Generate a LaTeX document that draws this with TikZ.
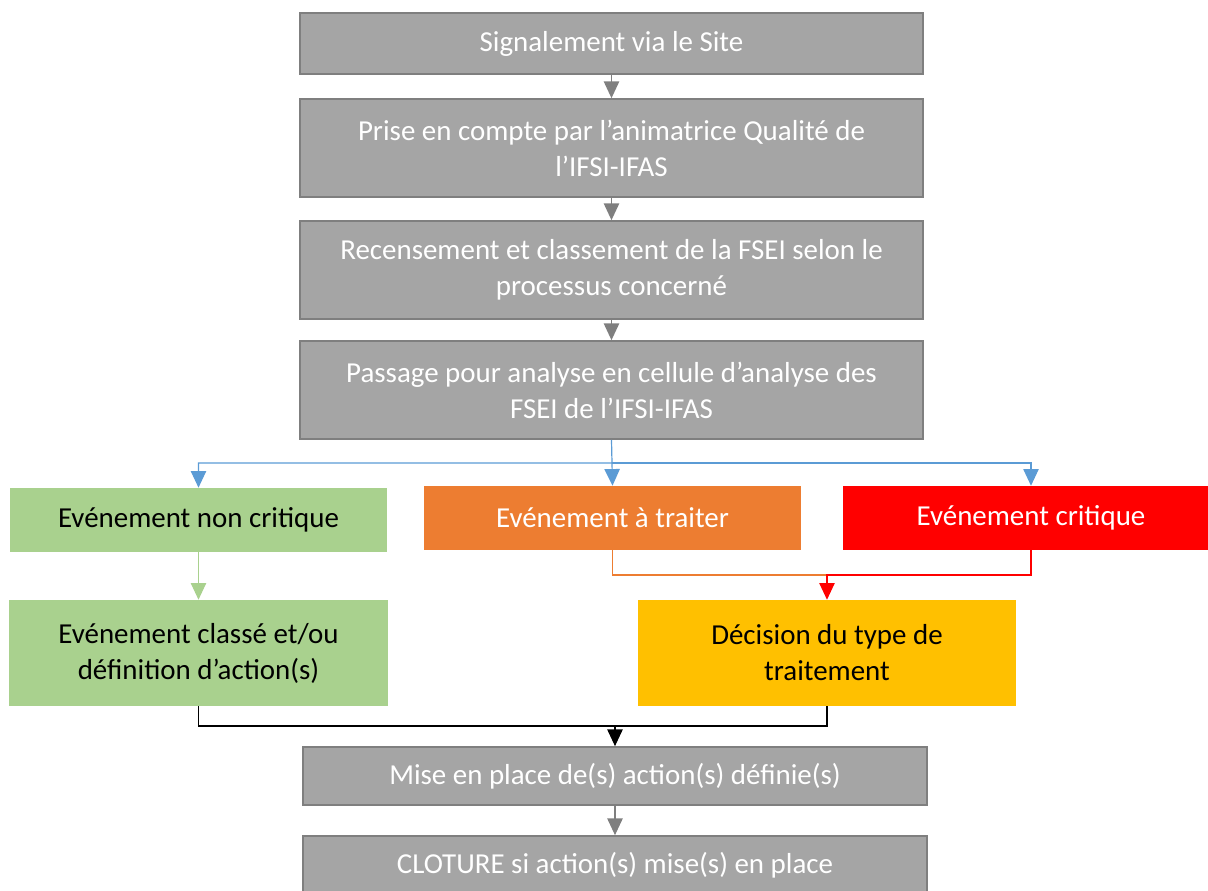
\documentclass[tikz,border=0pt]{standalone}
\usepackage{fontspec}
\setmainfont{Carlito}
\usepackage{tikz}
\usetikzlibrary{arrows.meta, positioning}

\definecolor{boxgray}{HTML}{A5A5A5}
\definecolor{edgegray}{HTML}{7F7F7F}
\definecolor{lightgreen}{HTML}{A9D18E}
\definecolor{darkorange}{HTML}{ED7D31}
\definecolor{brightred}{HTML}{FF0000}
\definecolor{gold}{HTML}{FFC000}
\definecolor{linkblue}{HTML}{5B9BD5}

\tikzset{
	stage/.style={draw=edgegray, line width=1.3pt, fill=boxgray, text=white, align=center, inner sep=0pt, font=\fontsize{21.7}{27}\selectfont},
	tone/.style={fill=#1, inner sep=0pt, align=center, font=\fontsize{21.7}{27}\selectfont},
	link/.style={line width=0.9pt, -{Triangle[length=12.5pt, width=11.5pt]}},
	plain/.style={line width=0.9pt}
}

\begin{document}
\begin{tikzpicture}[x=0.75pt, y=0.75pt]
	\useasboundingbox (0,0) rectangle (1208,-890);
	\node[stage, minimum width=467pt, minimum height=46pt] (signal) at (611.5,-43.5) {Signalement via le Site};
	\node[stage, minimum width=467pt, minimum height=73.5pt] (prise) at (611.5,-148) {Prise en compte par l’animatrice Qualité de\\ l’IFSI-IFAS};
	\node[stage, minimum width=467pt, minimum height=73.5pt] (recens) at (611.5,-270) {Recensement et classement de la FSEI selon le\\ processus concerné};
	\node[stage, minimum width=467pt, minimum height=73.5pt] (passage) at (611.5,-390) {Passage pour analyse en cellule d’analyse des\\ FSEI de l’IFSI-IFAS};
	\node[tone=lightgreen, minimum width=283pt, minimum height=48pt] (noncrit) at (198.5,-520) {Evénement non critique};
	\node[tone=darkorange, text=white, minimum width=283pt, minimum height=48pt] (traiter) at (612.5,-518) {Evénement à traiter};
	\node[tone=brightred, text=white, minimum width=282pt, minimum height=48pt] (critique) at (1031,-518) {Evénement critique};
	\node[tone=lightgreen, minimum width=284pt, minimum height=79.5pt] (classe) at (198.5,-653) {Evénement classé et/ou\\ définition d’action(s)};
	\node[tone=gold, minimum width=283.5pt, minimum height=79.5pt] (decision) at (827,-653) {Décision du type de\\ traitement};
	\node[stage, minimum width=468pt, minimum height=43.5pt] (mise) at (615,-776) {Mise en place de(s) action(s) définie(s)};
	\node[stage, minimum width=468pt, minimum height=43.5pt] (cloture) at (615,-865) {CLOTURE si action(s) mise(s) en place};

	% junction points
	\coordinate (split) at (612,-463);
	\coordinate (merge) at (827,-575);
	\coordinate (join) at (615,-726);

	\draw[link, edgegray] (signal) -- (prise);
	\draw[link, edgegray] (prise) -- (recens);
	\draw[link, edgegray] (recens) -- (passage);
	\draw[link, linkblue] (passage.south) -- (split) -| (noncrit.north);
	\draw[link, linkblue] (split) -- (traiter.north);
	\draw[link, linkblue] (split) -| (critique.north);
	\draw[link, lightgreen] (noncrit) -- (classe);
	\draw[plain, darkorange] (traiter.south) |- (merge);
	\draw[link, brightred] (critique.south) |- (merge) -- (decision.north);
	\draw[plain, black] (classe.south) |- (join);
	\draw[link, black] (decision.south) |- (join) -- (mise.north);
	\draw[link, edgegray] (mise) -- (cloture);
\end{tikzpicture}
\end{document}
